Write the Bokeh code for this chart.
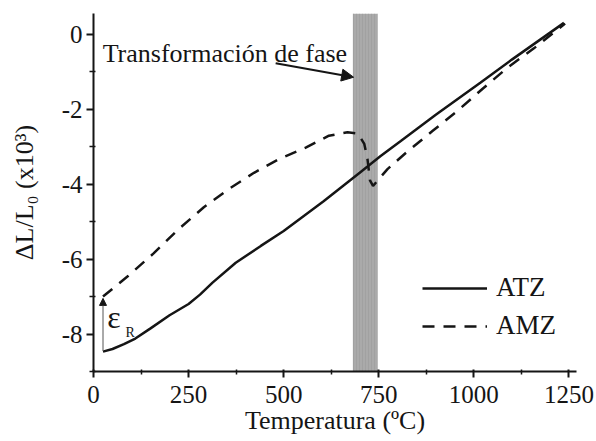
from bokeh.plotting import figure
from bokeh.models import (Range1d, Arrow, NormalHead, Legend, LegendItem, Label,
                          FixedTicker)
from bokeh.embed import file_html
from bokeh.resources import INLINE

# ---- data ----
atz_t = [25, 50, 80, 110, 150, 200, 250, 280, 313, 374, 440, 500, 605, 700, 755, 808, 900, 1018, 1100, 1237]
atz_v = [-8.47, -8.4, -8.27, -8.12, -7.85, -7.5, -7.2, -6.95, -6.63, -6.1, -5.65, -5.25, -4.46, -3.7, -3.25, -2.85, -2.15, -1.29, -0.68, 0.3]

amz_t = [25, 90, 158, 224, 290, 356, 422, 488, 558, 619, 668, 695, 712, 720, 727, 735, 773, 821, 892, 958, 1024, 1089, 1158, 1240]
amz_v = [-7.0, -6.46, -5.85, -5.2, -4.62, -4.13, -3.7, -3.33, -3.03, -2.71, -2.62, -2.65, -2.93, -3.3, -3.9, -4.05, -3.6, -3.17, -2.58, -2.04, -1.45, -0.89, -0.38, 0.28]

band_t = [682, 747]          # phase transformation interval (°C)
x_lim = [0, 1270]
y_lim = [-9.0, 0.55]

x_ticks = [0, 250, 500, 750, 1000, 1250]
x_minor = [125, 375, 625, 875, 1125]
y_ticks = [-8, -6, -4, -2, 0]
y_minor = [-9, -7, -5, -3, -1]
y_tick_labels = ["-8", "-6", "-4", "-2", "0"]

x_title = "Temperatura (ºC)"
y_title = "ΔL/L₀ (x10³)"
note_text = "Transformación de fase"
note_pos = [24, -0.51]
note_arrow = [479, -0.78, 684, -1.15]
eps_arrow = [25, -8.45, 25, -7.05]
eps_pos = [36, -7.55]
eps_sub_pos = [84, -7.95]

FONT = "Liberation Serif"
INK = "#151515"

p = figure(width=596, height=441,
           x_range=Range1d(*x_lim), y_range=Range1d(*y_lim),
           output_backend="svg", toolbar_location=None,
           min_border_left=93, min_border_top=13, min_border_right=20, min_border_bottom=70)
p.outline_line_color = None
p.xgrid.visible = False
p.ygrid.visible = False
p.background_fill_color = "white"

# shaded band
p.quad(left=[band_t[0]], right=[band_t[1]], bottom=[y_lim[0]], top=[y_lim[1]],
       fill_color="#aaaaaa", line_color=None,
       hatch_pattern="vertical_line", hatch_color="#989898", hatch_alpha=0.5,
       hatch_scale=3, hatch_weight=1)

r1 = p.line(atz_t, atz_v, line_width=2.5, line_color=INK)
r2 = p.line(amz_t, amz_v, line_width=2.5, line_color=INK, line_dash="12 9")

# axes
for ax in (p.xaxis[0], p.yaxis[0]):
    ax.axis_line_width = 2
    ax.axis_line_color = INK
    ax.major_tick_line_width = 2
    ax.minor_tick_line_width = 1.5
    ax.major_tick_line_color = INK
    ax.minor_tick_line_color = INK
    ax.major_label_text_font = FONT
    ax.major_label_text_font_size = "25px"
    ax.major_label_text_color = INK
    ax.axis_label_text_font = FONT
    ax.axis_label_text_font_size = "26px"
    ax.axis_label_text_font_style = "normal"
    ax.axis_label_text_color = INK

p.xaxis.ticker = FixedTicker(ticks=x_ticks, minor_ticks=x_minor)
p.yaxis.ticker = FixedTicker(ticks=y_ticks, minor_ticks=y_minor)
p.yaxis.major_label_overrides = {t: s for t, s in zip(y_ticks, y_tick_labels)}
p.xaxis.major_tick_out = 6
p.xaxis.major_tick_in = 2
p.xaxis.minor_tick_out = 3
p.xaxis.minor_tick_in = 2
p.yaxis.major_tick_out = 7
p.yaxis.major_tick_in = 0
p.yaxis.minor_tick_out = 4
p.yaxis.minor_tick_in = 2
p.xaxis.major_label_standoff = 8
p.yaxis.major_label_standoff = 4
p.xaxis.axis_label = x_title
p.xaxis.axis_label_standoff = 0
p.yaxis.axis_label = y_title
p.yaxis.axis_label_standoff = 20

# annotation: phase transformation
p.add_layout(Label(x=note_pos[0], y=note_pos[1], text=note_text, text_font=FONT,
                   text_font_size="26px", text_color=INK, text_baseline="alphabetic"))
p.add_layout(Arrow(end=NormalHead(size=12, fill_color=INK, line_color=INK),
                   x_start=note_arrow[0], y_start=note_arrow[1],
                   x_end=note_arrow[2], y_end=note_arrow[3],
                   line_width=2, line_color=INK))

# recoverable strain marker
p.add_layout(Arrow(end=NormalHead(size=7, fill_color=INK, line_color=INK),
                   x_start=eps_arrow[0], y_start=eps_arrow[1],
                   x_end=eps_arrow[2], y_end=eps_arrow[3],
                   line_width=1, line_color="#555555"))
p.add_layout(Label(x=eps_pos[0], y=eps_pos[1], text="ε", text_font=FONT,
                   text_font_size="32px", text_color=INK, text_baseline="middle"))
p.add_layout(Label(x=eps_sub_pos[0], y=eps_sub_pos[1], text="R", text_font=FONT,
                   text_font_size="14px", text_color=INK, text_baseline="middle"))

legend = Legend(items=[LegendItem(label="ATZ", renderers=[r1]),
                       LegendItem(label="AMZ", renderers=[r2])],
                location=(329, 30), glyph_width=65, glyph_height=30, label_height=30,
                spacing=7, padding=0, margin=0, border_line_color=None,
                background_fill_alpha=0, label_text_font=FONT,
                label_text_font_size="27px", label_text_color=INK, label_standoff=9)
p.add_layout(legend)

open("out.html", "w").write(file_html(p, INLINE))
